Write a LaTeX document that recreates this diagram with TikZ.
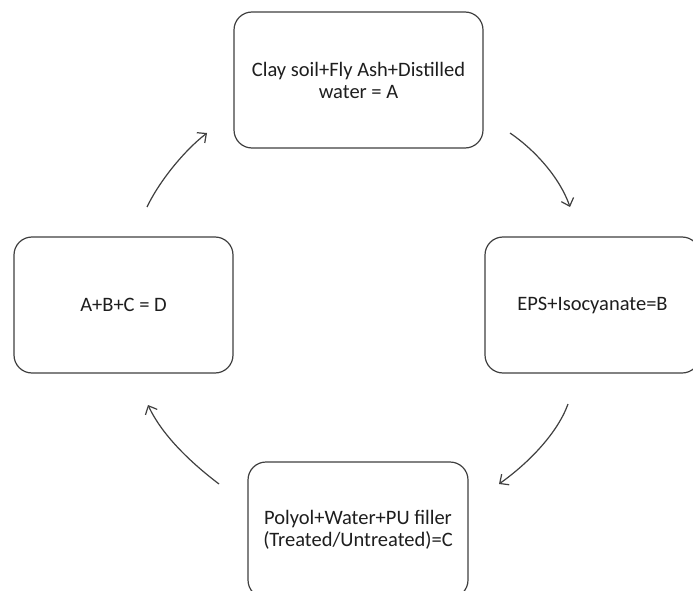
\documentclass[tikz,border=0pt]{standalone}
\usepackage{fontspec}
\setmainfont{Carlito}
\usetikzlibrary{arrows.meta}
\definecolor{edgegray}{RGB}{64,64,64}
\definecolor{txt}{RGB}{30,30,30}
\begin{document}
\begin{tikzpicture}[x=1pt,y=-1pt,
  stagebox/.style={draw=edgegray, line width=1.2pt, rounded corners=18pt, minimum height=136pt,
    align=center, inner sep=0pt, text=txt, font=\fontsize{20.5}{22}\selectfont},
  cyclearrow/.style={draw=edgegray, line width=1.2pt, -{Straight Barb[length=7pt,width=13pt,line width=1.2pt]}}]
\useasboundingbox (0,0) rectangle (693,591);
\fill[white] (0,0) rectangle (693,591);
\node[stagebox, minimum width=249pt] (A) at (358.5,80) {Clay soil+Fly Ash+Distilled\\water = A};
\node[stagebox, minimum width=215pt] (B) at (592.5,305) {EPS+Isocyanate=B};
\node[stagebox, minimum width=220pt] (C) at (358,530) {Polyol+Water+PU filler\\(Treated/Untreated)=C};
\node[stagebox, minimum width=219pt] (D) at (123.5,305) {A+B+C = D};
\coordinate (a1) at (510,133);
\coordinate (a2) at (570,207);
\coordinate (b1) at (568,404);
\coordinate (b2) at (499,484);
\coordinate (c1) at (219,484);
\coordinate (c2) at (148,405);
\coordinate (d1) at (147,207);
\coordinate (d2) at (207,133);
\draw[cyclearrow] (a1) .. controls (535,150) and (560,178) .. (a2);
\draw[cyclearrow] (b1) .. controls (558,432) and (530,462) .. (b2);
\draw[cyclearrow] (c1) .. controls (190,462) and (162,435) .. (c2);
\draw[cyclearrow] (d1) .. controls (160,180) and (185,150) .. (d2);
\end{tikzpicture}
\end{document}
